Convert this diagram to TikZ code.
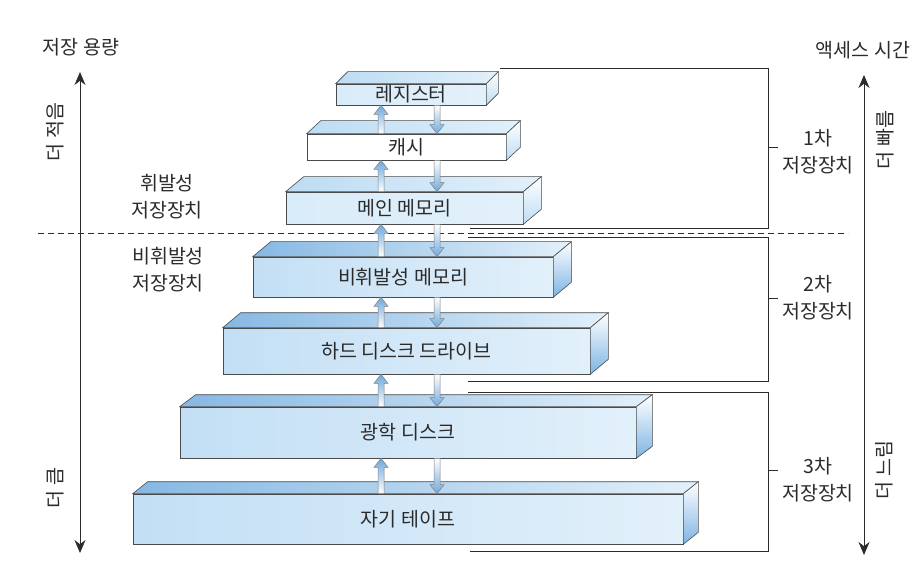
\documentclass[tikz,border=0pt]{standalone}
\usepackage{fontspec}
\setmainfont{Noto Sans CJK KR}
\usetikzlibrary{arrows.meta,calc}
\definecolor{msEdge}{HTML}{4A4A4A}
\definecolor{msLine}{HTML}{2B2B2B}
\definecolor{msPale}{HTML}{D9ECF9}
\definecolor{msPaleTop}{HTML}{BCDCF3}
\definecolor{msBlue}{HTML}{C3DFF5}
\definecolor{msBlueLt}{HTML}{E2F0FA}
\definecolor{msBlueTop}{HTML}{86B8E3}
\definecolor{msBlueSide}{HTML}{7DB4E3}
\definecolor{msArrow}{HTML}{6EA8DC}
\tikzset{
  >={Stealth[length=13pt,width=11pt]},
  face/.style={draw=msEdge, line width=0.6pt},
  slab/.style={face, inner sep=0pt, text=msLine},
  frontpale/.style={slab, left color=msPale, right color=msBlueLt},
  frontwhite/.style={slab, fill=white},
  frontblue/.style={slab, left color=msBlue, right color=msBlueLt},
  toppale/.style={face, left color=msPaleTop, right color=msBlueLt},
  topblue/.style={face, left color=msBlueTop, right color=msBlueLt},
  sidepale/.style={face, top color=white, bottom color=msPaleTop},
  sideblue/.style={face, top color=white, bottom color=msBlueSide},
  uparr/.style={draw=gray, line width=0.5pt, top color=msArrow, bottom color=white},
  dnarr/.style={draw=gray, line width=0.5pt, top color=white, bottom color=msArrow},
  axis/.style={<->, draw=msLine, line width=0.8pt},
  brace/.style={draw=msLine, line width=1pt},
  lvl/.style={align=center, text=msLine},
}

\begin{document}
\begin{tikzpicture}[x=1pt,y=-1pt,font=\fontsize{19.5}{27}\selectfont]
  \useasboundingbox (0,0) rectangle (913,572);

  % axes at both sides
  \node[text=msLine] (cap) at (81,47) {저장 용량};
  \node[text=msLine] (acc) at (863,50) {액세스 시간};
  \coordinate (captop) at (80,72);
  \coordinate (capbot) at (80,553);
  \coordinate (acctop) at (864,75);
  \coordinate (accbot) at (864,555);
  \draw[axis] (captop) -- (capbot);
  \draw[axis] (acctop) -- (accbot);
  \node[rotate=90, text=msLine] (less) at (55,132) {더 적음};
  \node[rotate=90, text=msLine] (more) at (55,488) {더 큼};
  \node[rotate=90, text=msLine] (fast) at (885,140) {더 빠름};
  \node[rotate=90, text=msLine] (slow) at (884,470) {더 느림};

  % volatile / non-volatile split
  \draw[msLine, line width=0.9pt, dash pattern=on 6pt off 4pt] (38,233) -- (848,233);
  \node[lvl] (vol) at (167,197) {휘발성\\저장장치};
  \node[lvl] (nonvol) at (168,270) {비휘발성\\저장장치};

  % hierarchy slabs
  \node[frontpale, minimum width=150, minimum height=21] (reg) at (411,94.5) {레지스터};
  \node[frontwhite, minimum width=199, minimum height=26] (cache) at (406.5,147) {캐시};
  \node[frontpale, minimum width=237, minimum height=32] (main) at (404.5,208) {메인 메모리};
  \node[frontblue, minimum width=300, minimum height=40] (nvm) at (403,277) {비휘발성 메모리};
  \node[frontblue, minimum width=367, minimum height=46] (hdd) at (406.5,351) {하드 디스크 드라이브};
  \node[frontblue, minimum width=456, minimum height=51] (opt) at (408,432.5) {광학 디스크};
  \node[frontblue, minimum width=550, minimum height=50] (tape) at (408,519) {자기 테이프};

  \foreach \n/\dx/\dy in {reg/12/12, cache/14/13, main/18/15} {
    \draw[toppale] (\n.north west) -- ++(\dx,-\dy) -- ($(\n.north east)+(\dx,-\dy)$)
      -- (\n.north east) -- cycle;
    \draw[sidepale] (\n.north east) -- ++(\dx,-\dy) -- ($(\n.south east)+(\dx,-\dy)$)
      -- (\n.south east) -- cycle;
  }
  \foreach \n/\dx/\dy in {nvm/18/15, hdd/18/15, opt/16/12, tape/15/12} {
    \draw[topblue] (\n.north west) -- ++(\dx,-\dy) -- ($(\n.north east)+(\dx,-\dy)$)
      -- (\n.north east) -- cycle;
    \draw[sideblue] (\n.north east) -- ++(\dx,-\dy) -- ($(\n.south east)+(\dx,-\dy)$)
      -- (\n.south east) -- cycle;
  }

  % transfer arrows
  \coordinate (upcol) at (381,0);
  \coordinate (dncol) at (437,0);
  \foreach \lo/\hi in {cache/reg, main/cache, nvm/main, hdd/nvm, opt/hdd, tape/opt} {
    \draw[uparr] let \p1=(\lo.north -| upcol), \p2=(\hi.south -| upcol) in
      (\x1-3pt,\y1) -- (\x1-3pt,\y2-9pt) -- (\x1-7pt,\y2-9pt) -- (\x1,\y2)
      -- (\x1+7pt,\y2-9pt) -- (\x1+3pt,\y2-9pt) -- (\x1+3pt,\y1) -- cycle;
    \draw[dnarr] let \p1=(\hi.south -| dncol), \p2=(\lo.north -| dncol) in
      (\x1-3pt,\y1) -- (\x1-3pt,\y2+9pt) -- (\x1-7pt,\y2+9pt) -- (\x1,\y2)
      -- (\x1+7pt,\y2+9pt) -- (\x1+3pt,\y2+9pt) -- (\x1+3pt,\y1) -- cycle;
  }

  % storage levels
  \draw[brace] (500,69) -- (768,69) -- (768,229) -- (470,229);
  \draw[brace] (768,148) -- (778,148);
  \draw[brace] (468,238) -- (768,238) -- (768,381) -- (468,381);
  \draw[brace] (768,298) -- (778,298);
  \draw[brace] (468,392) -- (768,392) -- (768,551) -- (470,551);
  \draw[brace] (768,470) -- (778,470);
  \node[lvl] (lv1) at (818,152) {1차\\저장장치};
  \node[lvl] (lv2) at (818,298) {2차\\저장장치};
  \node[lvl] (lv3) at (818,480) {3차\\저장장치};
\end{tikzpicture}
\end{document}
